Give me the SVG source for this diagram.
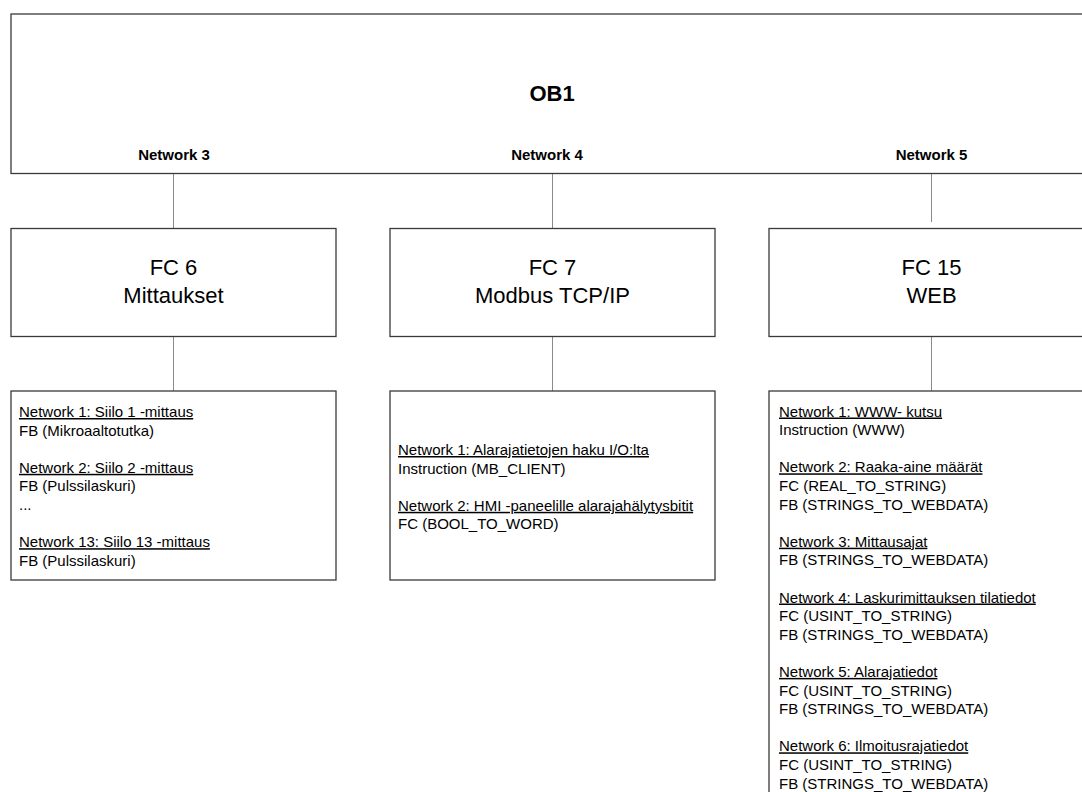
<svg xmlns="http://www.w3.org/2000/svg" width="1082" height="792" viewBox="0 0 1082 792">
  <style>
    .box { fill: #ffffff; stroke: #3a3a3a; stroke-width: 1.3; }
    .link { stroke: #8a8a8a; stroke-width: 1; fill: none; }
    .title { font-family: "Liberation Sans", Arial, sans-serif; font-weight: bold; font-size: 22px; fill: #000; text-anchor: middle; }
    .net { font-family: "Liberation Sans", Arial, sans-serif; font-weight: bold; font-size: 15px; fill: #000; text-anchor: middle; }
    .fc { font-family: "Liberation Sans", Arial, sans-serif; font-size: 22px; fill: #000; text-anchor: middle; }
    .item { font-family: "Liberation Sans", Arial, sans-serif; font-size: 15px; fill: #000; }
    .hd { text-decoration: underline; }
  </style>
  <rect width="1082" height="792" fill="#ffffff"/>

  <!-- connectors -->
  <g id="connectors">
    <line class="link" x1="173.5" y1="174" x2="173.5" y2="228"/>
    <line class="link" x1="552.5" y1="174" x2="552.5" y2="228"/>
    <line class="link" x1="931.5" y1="174" x2="931.5" y2="222"/>
    <line class="link" x1="173.5" y1="337" x2="173.5" y2="391"/>
    <line class="link" x1="552.5" y1="337" x2="552.5" y2="391"/>
    <line class="link" x1="931.5" y1="337" x2="931.5" y2="391"/>
  </g>

  <!-- main organisation block -->
  <g id="ob1">
    <rect class="box" x="11" y="14" width="1090" height="159.5"/>
    <text class="title" x="552" y="101">OB1</text>
    <text class="net" x="174" y="160">Network 3</text>
    <text class="net" x="547" y="160">Network 4</text>
    <text class="net" x="931.5" y="160">Network 5</text>
  </g>

  <!-- function blocks -->
  <g id="fc6">
    <rect class="box" x="11" y="228.5" width="325" height="108"/>
    <text class="fc" x="173.5" y="275">FC 6</text>
    <text class="fc" x="173.5" y="302.5">Mittaukset</text>
  </g>
  <g id="fc7">
    <rect class="box" x="390" y="228.5" width="325" height="108"/>
    <text class="fc" x="552.5" y="275">FC 7</text>
    <text class="fc" x="552.5" y="302.5">Modbus TCP/IP</text>
  </g>
  <g id="fc15">
    <rect class="box" x="769" y="228.5" width="330" height="108"/>
    <text class="fc" x="931.5" y="275">FC 15</text>
    <text class="fc" x="931.5" y="302.5">WEB</text>
  </g>

  <!-- network listings -->
  <g id="fc6-networks">
    <rect class="box" x="11" y="391" width="325" height="189"/>
    <text class="item hd" x="19" y="417">Network 1: Siilo 1 -mittaus</text>
    <text class="item" x="19" y="435.6">FB (Mikroaaltotutka)</text>
    <text class="item hd" x="19" y="472.8">Network 2: Siilo 2 -mittaus</text>
    <text class="item" x="19" y="491.4">FB (Pulssilaskuri)</text>
    <text class="item" x="19" y="510">...</text>
    <text class="item hd" x="19" y="547.2">Network 13: Siilo 13 -mittaus</text>
    <text class="item" x="19" y="565.8">FB (Pulssilaskuri)</text>
  </g>
  <g id="fc7-networks">
    <rect class="box" x="390" y="391" width="325" height="189"/>
    <text class="item hd" x="398" y="455">Network 1: Alarajatietojen haku I/O:lta</text>
    <text class="item" x="398" y="473.6">Instruction (MB_CLIENT)</text>
    <text class="item hd" x="398" y="510.8">Network 2: HMI -paneelille alarajahälytysbitit</text>
    <text class="item" x="398" y="529.4">FC (BOOL_TO_WORD)</text>
  </g>
  <g id="fc15-networks">
    <rect class="box" x="769" y="391" width="330" height="420"/>
    <text class="item hd" x="779" y="416.5">Network 1: WWW- kutsu</text>
    <text class="item" x="779" y="435.1">Instruction (WWW)</text>
    <text class="item hd" x="779" y="472.3">Network 2: Raaka-aine määrät</text>
    <text class="item" x="779" y="490.9">FC (REAL_TO_STRING)</text>
    <text class="item" x="779" y="509.5">FB (STRINGS_TO_WEBDATA)</text>
    <text class="item hd" x="779" y="546.7">Network 3: Mittausajat</text>
    <text class="item" x="779" y="565.3">FB (STRINGS_TO_WEBDATA)</text>
    <text class="item hd" x="779" y="602.5">Network 4: Laskurimittauksen tilatiedot</text>
    <text class="item" x="779" y="621.1">FC (USINT_TO_STRING)</text>
    <text class="item" x="779" y="639.7">FB (STRINGS_TO_WEBDATA)</text>
    <text class="item hd" x="779" y="676.9">Network 5: Alarajatiedot</text>
    <text class="item" x="779" y="695.5">FC (USINT_TO_STRING)</text>
    <text class="item" x="779" y="714.1">FB (STRINGS_TO_WEBDATA)</text>
    <text class="item hd" x="779" y="751.3">Network 6: Ilmoitusrajatiedot</text>
    <text class="item" x="779" y="769.9">FC (USINT_TO_STRING)</text>
    <text class="item" x="779" y="788.5">FB (STRINGS_TO_WEBDATA)</text>
  </g>
</svg>
